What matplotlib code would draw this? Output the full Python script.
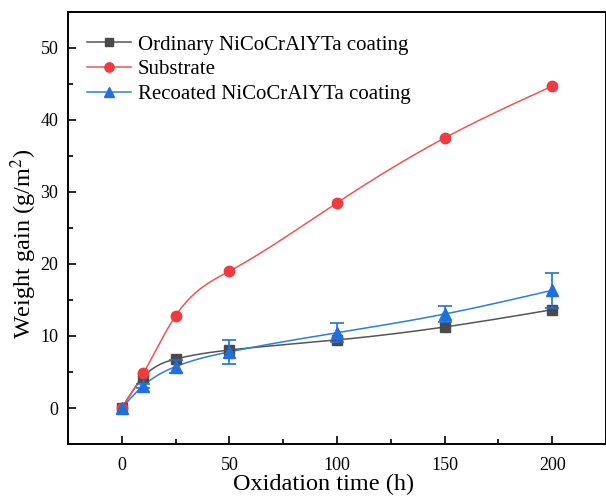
import numpy as np
import matplotlib.pyplot as plt
from matplotlib.ticker import MultipleLocator

# Oxidation time (h) and weight gain (g/m^2)
time_h = [0, 10, 25, 50, 100, 150, 200]
ordinary = [0.0, 4.3, 6.8, 8.05, 9.45, 11.25, 13.65]
substrate = [0.0, 4.8, 12.8, 19.0, 28.5, 37.5, 44.7]
recoated = [0.0, 3.1, 5.75, 7.8, 10.45, 13.05, 16.35]
recoated_err = [0.0, 0.3, 0.9, 1.65, 1.35, 1.15, 2.4]


def spline(x, y, xs):
    # natural cubic spline through the points (smooth connecting line)
    x = np.asarray(x, float)
    y = np.asarray(y, float)
    n = len(x)
    h = np.diff(x)
    A = np.zeros((n, n))
    b = np.zeros(n)
    A[0, 0] = A[-1, -1] = 1
    for i in range(1, n - 1):
        A[i, i - 1] = h[i - 1]
        A[i, i] = 2 * (h[i - 1] + h[i])
        A[i, i + 1] = h[i]
        b[i] = 6 * ((y[i + 1] - y[i]) / h[i] - (y[i] - y[i - 1]) / h[i - 1])
    M = np.linalg.solve(A, b)
    idx = np.clip(np.searchsorted(x, xs) - 1, 0, n - 2)
    hi = h[idx]
    a = x[idx + 1] - xs
    c = xs - x[idx]
    return (M[idx] * a**3 / (6 * hi) + M[idx + 1] * c**3 / (6 * hi)
            + (y[idx] / hi - M[idx] * hi / 6) * a
            + (y[idx + 1] / hi - M[idx + 1] * hi / 6) * c)


plt.rcParams['font.family'] = ['Liberation Serif', 'DejaVu Serif']
plt.rcParams['mathtext.fontset'] = 'stix'

fig = plt.figure(figsize=(6.06, 4.98), dpi=100)
ax = fig.add_axes([68 / 606, 1 - 444 / 498, 538 / 606, 432 / 498])

xs = np.linspace(0, 200, 400)
series = [
    (ordinary, 'Ordinary NiCoCrAlYTa coating', '#555555', '#4a4a4a', 's', 6.5),
    (substrate, 'Substrate', '#f05454', '#ef3b3f', 'o', 7.5),
    (recoated, 'Recoated NiCoCrAlYTa coating', '#2b7de0', '#1f6fe0', '^', 8),
]
for vals, label, lc, mc, mk, ms in series:
    ax.plot(xs, spline(time_h, vals, xs), color=lc, lw=1.1, zorder=2)
    ax.plot(time_h, vals, ls='none', marker=mk, ms=ms, color=mc, zorder=3)
    ax.plot([], [], color=lc, lw=1.1, marker=mk, ms=ms - 0.8, mfc=mc, mec=mc,
            label=label)

ax.errorbar(time_h[1:], recoated[1:], yerr=recoated_err[1:], fmt='none',
            ecolor='#1f6fe0', elinewidth=1.2, capsize=5, capthick=1.2, zorder=4)

ax.set_xlim(-25, 225)
ax.set_ylim(-5, 55)
ax.xaxis.set_major_locator(MultipleLocator(50))
ax.xaxis.set_minor_locator(MultipleLocator(25))
ax.yaxis.set_major_locator(MultipleLocator(10))
ax.yaxis.set_minor_locator(MultipleLocator(5))
ax.tick_params(which='both', direction='in', top=False, right=False,
               width=1.2, labelsize=13)
ax.tick_params(which='major', length=6)
ax.tick_params(which='minor', length=3.5)
ax.tick_params(axis='y', pad=7)
ax.tick_params(axis='x', pad=9)
for s in ax.spines.values():
    s.set_linewidth(1.4)

ax.set_xlabel('Oxidation time (h)', fontsize=17.5)
ax.set_ylabel('Weight gain (g/m$^2$)', fontsize=17.5)
ax.xaxis.set_label_coords((324 - 68) / 538, -0.068)
ax.yaxis.set_label_coords(-0.054, (444 - 244) / 432)

ax.legend(loc='upper left', frameon=False, fontsize=15, handlelength=2.1,
          handletextpad=0.35, labelspacing=0.25, borderaxespad=0.5,
          bbox_to_anchor=(0.0, 0.99))

fig.savefig('out.png', dpi=100)
